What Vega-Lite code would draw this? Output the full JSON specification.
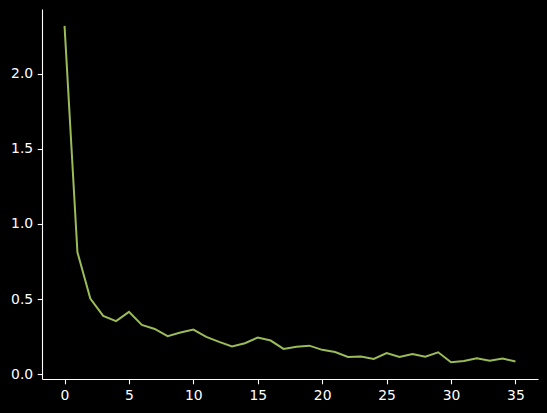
{
  "$schema": "https://vega.github.io/schema/vega-lite/v6.json",
  "width": 496,
  "height": 370,
  "autosize": {"type": "none"},
  "padding": {"left": 42, "top": 9, "right": 9, "bottom": 34},
  "background": "#000000",
  "config": {
    "view": {"stroke": null},
    "axis": {
      "domainColor": "#ffffff",
      "domainWidth": 1.1,
      "tickColor": "#ffffff",
      "tickWidth": 1.1,
      "tickSize": 4.8,
      "labelColor": "#ffffff",
      "labelFont": "DejaVu Sans",
      "labelFontSize": 13.9,
      "grid": false,
      "title": null
    },
    "axisX": {"labelPadding": 5},
    "axisY": {"labelPadding": 4.5}
  },
  "data": {
    "values": [
      {"epoch": 0, "loss": 2.319},
      {"epoch": 1, "loss": 0.812},
      {"epoch": 2, "loss": 0.503},
      {"epoch": 3, "loss": 0.388},
      {"epoch": 4, "loss": 0.353},
      {"epoch": 5, "loss": 0.415},
      {"epoch": 6, "loss": 0.328},
      {"epoch": 7, "loss": 0.301},
      {"epoch": 8, "loss": 0.253},
      {"epoch": 9, "loss": 0.277},
      {"epoch": 10, "loss": 0.297},
      {"epoch": 11, "loss": 0.248},
      {"epoch": 12, "loss": 0.215},
      {"epoch": 13, "loss": 0.185},
      {"epoch": 14, "loss": 0.206},
      {"epoch": 15, "loss": 0.244},
      {"epoch": 16, "loss": 0.224},
      {"epoch": 17, "loss": 0.168},
      {"epoch": 18, "loss": 0.182},
      {"epoch": 19, "loss": 0.19},
      {"epoch": 20, "loss": 0.162},
      {"epoch": 21, "loss": 0.148},
      {"epoch": 22, "loss": 0.115},
      {"epoch": 23, "loss": 0.117},
      {"epoch": 24, "loss": 0.102},
      {"epoch": 25, "loss": 0.14},
      {"epoch": 26, "loss": 0.115},
      {"epoch": 27, "loss": 0.135},
      {"epoch": 28, "loss": 0.117},
      {"epoch": 29, "loss": 0.146},
      {"epoch": 30, "loss": 0.08},
      {"epoch": 31, "loss": 0.088},
      {"epoch": 32, "loss": 0.106},
      {"epoch": 33, "loss": 0.09},
      {"epoch": 34, "loss": 0.104},
      {"epoch": 35, "loss": 0.084}
    ]
  },
  "mark": {"type": "line", "color": "#9bbb59", "strokeWidth": 2},
  "encoding": {
    "x": {
      "field": "epoch",
      "type": "quantitative",
      "scale": {"domain": [-1.75, 36.75], "nice": false, "zero": false},
      "axis": {"values": [0, 5, 10, 15, 20, 25, 30, 35], "format": "d"}
    },
    "y": {
      "field": "loss",
      "type": "quantitative",
      "scale": {"domain": [-0.032, 2.431], "nice": false, "zero": false},
      "axis": {"values": [0, 0.5, 1, 1.5, 2], "format": ".1f"}
    }
  }
}
